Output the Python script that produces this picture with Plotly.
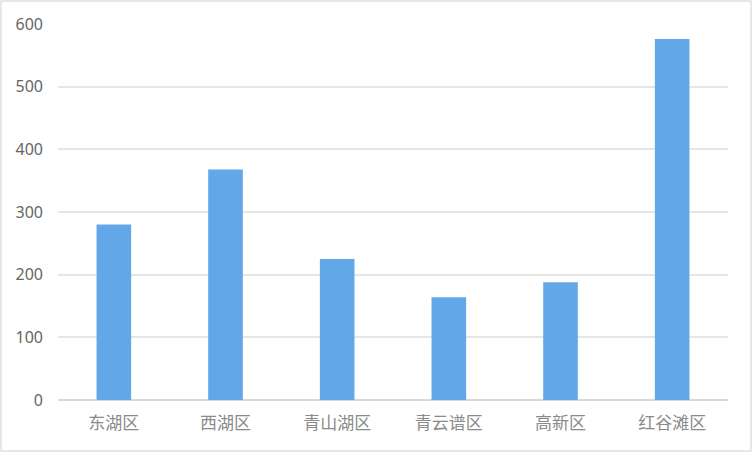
import plotly.graph_objects as go

# 各区数值
districts = ['东湖区', '西湖区', '青山湖区', '青云谱区', '高新区', '红谷滩区']
values = [280, 368, 225, 164, 188, 576]
y_ticks = [0, 100, 200, 300, 400, 500, 600]

fig = go.Figure()
fig.add_trace(go.Bar(
    x=districts,
    y=values,
    marker=dict(color='#62a8e8', line=dict(width=0)),
    hoverinfo='x+y'
))

fig.update_layout(
    width=752,
    height=452,
    margin=dict(l=58, r=24, t=24, b=52),
    paper_bgcolor='white',
    plot_bgcolor='white',
    bargap=0.69,
    showlegend=False,
    xaxis=dict(
        showgrid=False,
        showline=False,
        ticks='',
        ticklabelstandoff=11,
        tickfont=dict(family='Noto Sans CJK SC', size=17, color='#8a8a8a'),
    ),
    yaxis=dict(
        range=[0, 600],
        tickvals=y_ticks,
        showgrid=True,
        gridcolor='#e6e6e6',
        gridwidth=1.5,
        zeroline=True,
        zerolinecolor='#d9d9d9',
        zerolinewidth=1.5,
        showline=False,
        ticks='',
        ticklabelstandoff=14,
        tickfont=dict(family='Noto Sans', size=16, color='#666666'),
    ),
    shapes=[dict(
        type='rect', xref='paper', yref='paper',
        x0=-57 / 670, x1=1 + 23 / 670, y0=-51 / 376, y1=1 + 23 / 376,
        line=dict(color='#e0e0e0', width=1.5),
    )],
)

# 去掉页面默认边距，让图表贴齐窗口；隐藏工具栏
fig.write_html("out.html", config={'displayModeBar': False},
               post_script="document.body.style.margin='0';")
